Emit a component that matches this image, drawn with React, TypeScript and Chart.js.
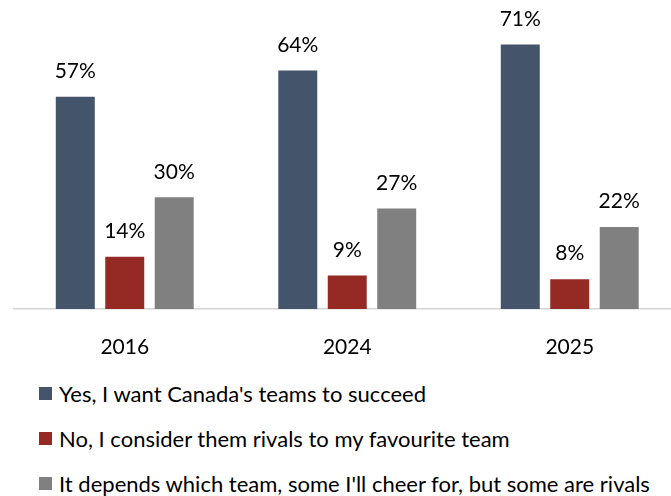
import React, { useEffect, useRef } from "react";
import { Chart, registerables } from "chart.js";

Chart.register(...registerables);

const categories = ["2016", "2024", "2025"];
const seriesNames = [
  "Yes, I want Canada's teams to succeed",
  "No, I consider them rivals to my favourite team",
  "It depends which team, some I'll cheer for, but some are rivals",
];
const yesValues = [57, 64, 71];
const noValues = [14, 9, 8];
const dependsValues = [30, 27, 22];
const colors = ["#44546A", "#952A25", "#808080"];

const FONT = "Lato, 'Open Sans', sans-serif";

const labelPlugin = {
  id: "barLabels",
  afterDatasetsDraw(chart: any) {
    const ctx = chart.ctx;
    ctx.save();
    ctx.font = `21px ${FONT}`;
    ctx.fillStyle = "#000000";
    ctx.textAlign = "center";
    ctx.textBaseline = "middle";
    chart.data.datasets.forEach((ds: any, i: number) => {
      const meta = chart.getDatasetMeta(i);
      meta.data.forEach((bar: any, j: number) => {
        ctx.fillText(ds.data[j] + "%", bar.x, bar.y - 25.5);
      });
    });
    ctx.restore();
  },
};

export default function App() {
  const ref = useRef<HTMLCanvasElement>(null);
  useEffect(() => {
    if (!ref.current) return;
    const values = [yesValues, noValues, dependsValues];
    const chart = new Chart(ref.current, {
      type: "bar",
      data: {
        labels: categories,
        datasets: seriesNames.map((name, i) => ({
          label: name,
          data: values[i],
          backgroundColor: colors[i],
          categoryPercentage: 0.667,
          barPercentage: 0.788,
        })),
      },
      options: {
        animation: false,
        responsive: false,
        maintainAspectRatio: false,
        layout: { padding: { left: 13.5, right: 9, top: 11, bottom: 0 } },
        plugins: { legend: { display: false }, tooltip: { enabled: false } },
        scales: {
          x: {
            grid: { display: false },
            border: { display: true, color: "#d4d4d4", width: 1.5 },
            ticks: { color: "#000", font: { family: FONT, size: 21 }, padding: 18 },
            afterFit: (scale: any) => {
              scale.height = 61;
            },
          },
          y: { display: false, min: 0, max: 80 },
        },
      },
      plugins: [labelPlugin],
    });
    return () => chart.destroy();
  }, []);

  return (
    <div
      style={{
        position: "fixed",
        left: 0,
        top: 0,
        width: 671,
        height: 496,
        overflow: "hidden",
        background: "#fff",
      }}
    >
      <canvas ref={ref} width={690} height={370} style={{ position: "absolute", left: 0, top: 0, width: 690, height: 370 }} />
      {seriesNames.map((name, i) => (
        <div
          key={name}
          style={{
            position: "absolute",
            left: 39,
            top: 393 + i * 45 - 15,
            height: 30,
            display: "flex",
            alignItems: "center",
            whiteSpace: "nowrap",
            fontFamily: FONT,
            fontSize: 22,
            color: "#000",
          }}
        >
          <span style={{ display: "inline-block", width: 13, height: 13, background: colors[i], marginRight: 7 }} />
          <span>{name}</span>
        </div>
      ))}
    </div>
  );
}
